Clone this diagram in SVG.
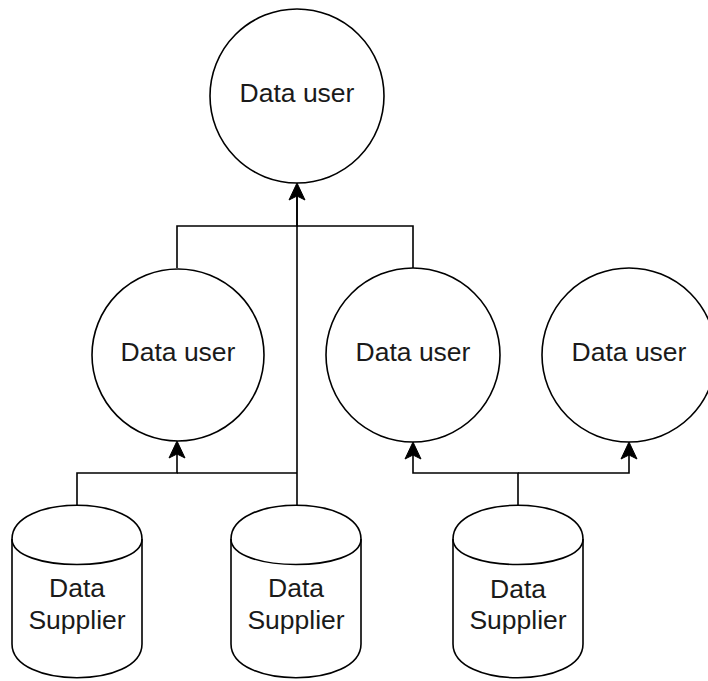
<svg xmlns="http://www.w3.org/2000/svg" width="708" height="681" viewBox="0 0 708 681">
<style>
.shape{fill:#fff;stroke:#000;stroke-width:1.6}
.edge{fill:none;stroke:#000;stroke-width:1.6}
.lbl{font-family:"Liberation Sans",Arial,Helvetica,sans-serif;font-size:26.5px;fill:#1a1a1a;text-anchor:middle}
.arr{fill:#000;stroke:#000;stroke-width:1}
</style>
<rect width="708" height="681" fill="#fff"/>
<g id="connectors">
<path class="edge" d="M177,268 V226 H297 V190"/>
<path class="edge" d="M413,268 V226 H297"/>
<path class="edge" d="M297,505 V190"/>
<path class="edge" d="M77,505 V473 H177 V448"/>
<path class="edge" d="M297,473 H177"/>
<path class="edge" d="M518,506 V473 H413 V449"/>
<path class="edge" d="M518,473 H629 V449"/>
<path class="arr" d="M297,183 L289,200 L297,196 L305,200 Z"/>
<path class="arr" d="M177,441 L169,458 L177,454 L185,458 Z"/>
<path class="arr" d="M413,442 L405,459 L413,455 L421,459 Z"/>
<path class="arr" d="M629,442 L621,459 L629,455 L637,459 Z"/>
</g>
<g id="user-top">
<circle class="shape" cx="297" cy="96" r="87"/>
<text class="lbl" x="297" y="102">Data user</text>
</g>
<g id="user-mid-left">
<circle class="shape" cx="178" cy="355" r="86"/>
<text class="lbl" x="178" y="361">Data user</text>
</g>
<g id="user-mid-right">
<circle class="shape" cx="413" cy="355" r="87"/>
<text class="lbl" x="413" y="361">Data user</text>
</g>
<g id="user-right">
<circle class="shape" cx="629" cy="355" r="87"/>
<text class="lbl" x="629" y="361">Data user</text>
</g>
<g id="supplier-left">
<path class="shape" d="M12,539 C12,494 142,494 142,539 L142,644 C142,689 12,689 12,644 Z"/>
<path class="edge" d="M12,539 C12,573 142,573 142,539"/>
<text class="lbl" x="77" y="597">Data</text>
<text class="lbl" x="77" y="629">Supplier</text>
</g>
<g id="supplier-mid">
<path class="shape" d="M231,539 C231,494 361,494 361,539 L361,644 C361,689 231,689 231,644 Z"/>
<path class="edge" d="M231,539 C231,573 361,573 361,539"/>
<text class="lbl" x="296" y="597">Data</text>
<text class="lbl" x="296" y="629">Supplier</text>
</g>
<g id="supplier-right">
<path class="shape" d="M453,539 C453,494 583,494 583,539 L583,644 C583,689 453,689 453,644 Z"/>
<path class="edge" d="M453,539 C453,573 583,573 583,539"/>
<text class="lbl" x="518" y="598">Data</text>
<text class="lbl" x="518" y="629">Supplier</text>
</g>
</svg>
